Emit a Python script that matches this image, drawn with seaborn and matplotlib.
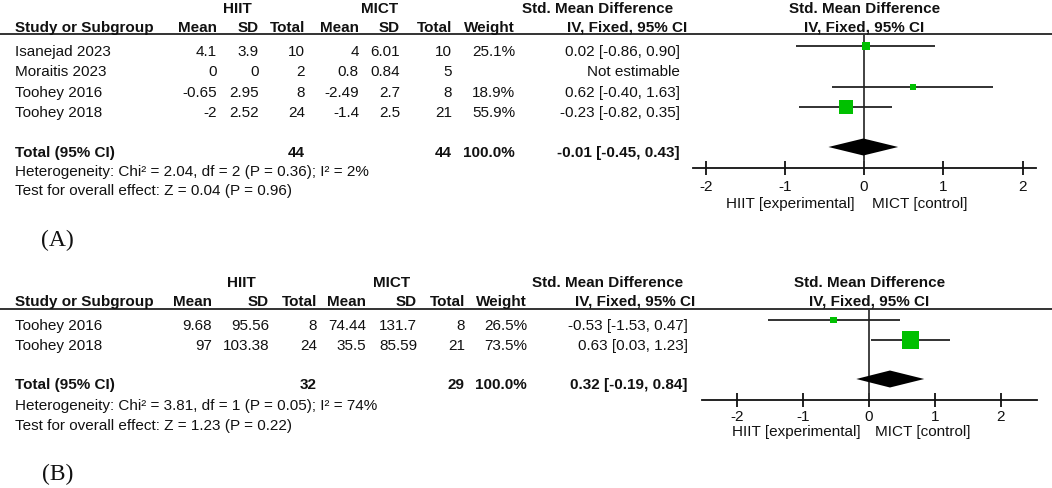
import numpy as np
import pandas as pd
import matplotlib
matplotlib.use("Agg")
import matplotlib.pyplot as plt
import seaborn as sns

sns.set_theme(style="white")
plt.rcParams['font.family'] = ['Liberation Sans', 'DejaVu Sans']
plt.rcParams['axes.unicode_minus'] = False

# ---------------- data: panel A ----------------
a_study = ["Isanejad 2023", "Moraitis 2023", "Toohey 2016", "Toohey 2018"]
a_hiit_mean = [4.1, 0, -0.65, -2]
a_hiit_sd = [3.9, 0, 2.95, 2.52]
a_hiit_n = [10, 2, 8, 24]
a_mict_mean = [4, 0.8, -2.49, -1.4]
a_mict_sd = [6.01, 0.84, 2.7, 2.5]
a_mict_n = [10, 5, 8, 21]
a_weight = [25.1, np.nan, 18.9, 55.9]
a_smd = [0.02, np.nan, 0.62, -0.23]
a_lo = [-0.86, np.nan, -0.40, -0.82]
a_hi = [0.90, np.nan, 1.63, 0.35]
a_total = [-0.01, -0.45, 0.43]
a_total_n = [44, 44]
a_het = "Heterogeneity: Chi\u00b2 = 2.04, df = 2 (P = 0.36); I\u00b2 = 2%"
a_test = "Test for overall effect: Z = 0.04 (P = 0.96)"

# ---------------- data: panel B ----------------
b_study = ["Toohey 2016", "Toohey 2018"]
b_hiit_mean = [9.68, 97]
b_hiit_sd = [95.56, 103.38]
b_hiit_n = [8, 24]
b_mict_mean = [74.44, 35.5]
b_mict_sd = [131.7, 85.59]
b_mict_n = [8, 21]
b_weight = [26.5, 73.5]
b_smd = [-0.53, 0.63]
b_lo = [-1.53, 0.03]
b_hi = [0.47, 1.23]
b_total = [0.32, -0.19, 0.84]
b_total_n = [32, 29]
b_het = "Heterogeneity: Chi\u00b2 = 3.81, df = 1 (P = 0.05); I\u00b2 = 74%"
b_test = "Test for overall effect: Z = 1.23 (P = 0.22)"

ticks = [-2, -1, 0, 1, 2]
tick_labels = ["-2", "-1", "0", "1", "2"]
panel_labels = ["(A)", "(B)"]

# ---------------- layout (pixels) ----------------
W, H = 1052, 489
FS = 11
GREEN = "#00c000"
INK = "#111111"

layA = dict(hdr1=9, hdr2=28, line=35, rows=[52, 72, 93, 113], total=153,
            het=172, test=191, plabel=(41, 240),
            cols=dict(study=15, hm=217, hsd=259, hn=305, mm=359, msd=400,
                      mn=452, w=515, ci=680, cihdr=687),
            hdr_hiit=237, hdr_mict=380, hdr_smd=598,
            fx=(693, 1036), xlim=(-2.16, 2.17), axis_y=169, off=-5,
            sizes=(19, 101), pad=2.8, lab_y=204, dia_h=8.5)
layB = dict(hdr1=283, hdr2=302, line=310, rows=[326, 346], total=385,
            het=406, test=426, plabel=(42, 474),
            cols=dict(study=15, hm=212, hsd=269, hn=317, mm=366, msd=417,
                      mn=465, w=527, ci=688, cihdr=695),
            hdr_hiit=241, hdr_mict=392, hdr_smd=608,
            fx=(702, 1037), xlim=(-2.53, 2.55), axis_y=401, off=-5,
            sizes=(25, 150), pad=1.5, lab_y=432, dia_h=8.5)

fig = plt.figure(figsize=(W / 100, H / 100), dpi=100)
fig.patch.set_facecolor("white")
tab = fig.add_axes([0, 0, 1, 1])
tab.set_xlim(0, W)
tab.set_ylim(H, 0)
tab.axis("off")


def fmt(v):
    return f"{v:g}"


def ci_txt(e, l, h):
    return f"{e:.2f} [{l:.2f}, {h:.2f}]"


def draw_panel(L, study, hm, hsd, hn, mm, msd, mn, wt, smd, lo, hi, total,
               total_n, het, test, plabel):
    c = L["cols"]
    kw = dict(fontsize=FS, color=INK, va="center")
    bkw = dict(kw, fontweight="bold")
    x0, x1 = L["fx"]
    # headers
    tab.text(L["hdr_hiit"], L["hdr1"], "HIIT", ha="center", **bkw)
    tab.text(L["hdr_mict"], L["hdr1"], "MICT", ha="center", **bkw)
    tab.text(L["hdr_smd"], L["hdr1"], "Std. Mean Difference", ha="center", **bkw)
    tab.text((x0 + x1) / 2, L["hdr1"], "Std. Mean Difference", ha="center", **bkw)
    tab.text((x0 + x1) / 2, L["hdr2"], "IV, Fixed, 95% CI", ha="center", **bkw)
    tab.text(c["study"], L["hdr2"], "Study or Subgroup", ha="left", **bkw)
    for key, lab in [("hm", "Mean"), ("hsd", "SD"), ("hn", "Total"),
                     ("mm", "Mean"), ("msd", "SD"), ("mn", "Total"),
                     ("w", "Weight"), ("cihdr", "IV, Fixed, 95% CI")]:
        tab.text(c[key], L["hdr2"], lab, ha="right", **bkw)
    tab.axhline(L["line"], color=INK, lw=1.2)
    # study rows
    for i, s in enumerate(study):
        y = L["rows"][i]
        tab.text(c["study"], y, s, ha="left", **kw)
        tab.text(c["hm"], y, fmt(hm[i]), ha="right", **kw)
        tab.text(c["hsd"], y, fmt(hsd[i]), ha="right", **kw)
        tab.text(c["hn"], y, str(hn[i]), ha="right", **kw)
        tab.text(c["mm"], y, fmt(mm[i]), ha="right", **kw)
        tab.text(c["msd"], y, fmt(msd[i]), ha="right", **kw)
        tab.text(c["mn"], y, str(mn[i]), ha="right", **kw)
        if np.isnan(wt[i]):
            tab.text(c["ci"], y, "Not estimable", ha="right", **kw)
        else:
            tab.text(c["w"], y, f"{wt[i]:.1f}%", ha="right", **kw)
            tab.text(c["ci"], y, ci_txt(smd[i], lo[i], hi[i]), ha="right", **kw)
    # total
    y = L["total"]
    tab.text(c["study"], y, "Total (95% CI)", ha="left", **bkw)
    tab.text(c["hn"], y, str(total_n[0]), ha="right", **bkw)
    tab.text(c["mn"], y, str(total_n[1]), ha="right", **bkw)
    tab.text(c["w"], y, "100.0%", ha="right", **bkw)
    tab.text(c["ci"], y, ci_txt(*total), ha="right", **bkw)
    tab.text(c["study"], L["het"], het, ha="left", **kw)
    tab.text(c["study"], L["test"], test, ha="left", **kw)
    tab.text(L["plabel"][0], L["plabel"][1], plabel, ha="left", va="center",
             fontsize=17, color=INK, family=["Liberation Serif", "DejaVu Serif"])

    # forest plot
    ax = fig.add_axes([x0 / W, (H - L["axis_y"]) / H, (x1 - x0) / W,
                       (L["axis_y"] - L["line"]) / H])
    ax.set_facecolor("none")
    ax.set_xlim(*L["xlim"])
    ax.set_ylim(L["axis_y"], L["line"])
    for sp in ["top", "left", "right"]:
        ax.spines[sp].set_visible(False)
    ax.spines["bottom"].set_color(INK)
    ax.spines["bottom"].set_linewidth(1.3)
    ax.set_yticks([])
    ax.set_xticks(ticks)
    ax.set_xticklabels(tick_labels)
    ax.tick_params(axis="x", direction="inout", length=10, width=1.3,
                   colors=INK, labelsize=FS, pad=L["pad"], bottom=True)
    ax.axvline(0, color="#333333", lw=1.3, zorder=1)
    df = pd.DataFrame({"smd": smd, "lo": lo, "hi": hi, "weight": wt,
                       "y": [r + L["off"] for r in L["rows"][:len(smd)]]})
    df = df.dropna()
    ax.hlines(df["y"], df["lo"], df["hi"], color="#222222", lw=1.3, zorder=2)
    sns.scatterplot(data=df, x="smd", y="y", size="weight", sizes=L["sizes"],
                    marker="s", color=GREEN, linewidth=0, legend=False,
                    ax=ax, zorder=3)
    ax.set_xlabel("")
    ax.set_ylabel("")
    yd = L["total"] + L["off"]
    e, l, h = total
    dh = L["dia_h"]
    ax.fill([l, e, h, e], [yd, yd - dh, yd, yd + dh], color="black", lw=0,
            zorder=3)
    ax.text(-0.12, L["lab_y"], "HIIT [experimental]", ha="right", va="center",
            fontsize=FS, color=INK, clip_on=False)
    ax.text(0.10, L["lab_y"], "MICT [control]", ha="left", va="center",
            fontsize=FS, color=INK, clip_on=False)
    ax.set_ylim(L["axis_y"], L["line"])


draw_panel(layA, a_study, a_hiit_mean, a_hiit_sd, a_hiit_n, a_mict_mean,
           a_mict_sd, a_mict_n, a_weight, a_smd, a_lo, a_hi, a_total,
           a_total_n, a_het, a_test, panel_labels[0])
draw_panel(layB, b_study, b_hiit_mean, b_hiit_sd, b_hiit_n, b_mict_mean,
           b_mict_sd, b_mict_n, b_weight, b_smd, b_lo, b_hi, b_total,
           b_total_n, b_het, b_test, panel_labels[1])

fig.savefig("out.png", dpi=100, facecolor="white")
